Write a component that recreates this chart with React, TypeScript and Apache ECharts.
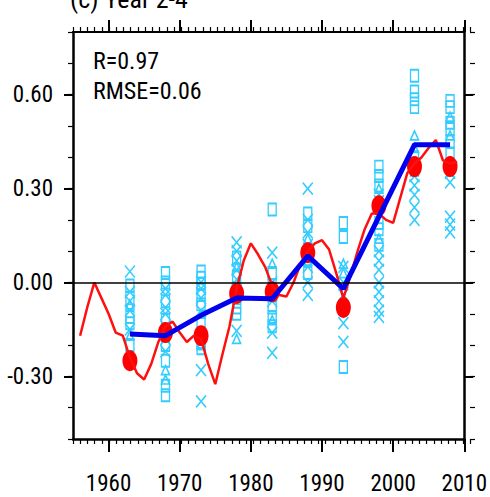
import React, { useEffect, useRef } from "react";
import * as echarts from "echarts";

const FONT = "'Roboto Condensed', 'DejaVu Sans Condensed', sans-serif";
const CYAN = "#33ccff";

const xTickLabels = [1960, 1970, 1980, 1990, 2000, 2010];
const yTickLabels = [-0.3, 0.0, 0.3, 0.6];

const redYears = [
  1956, 1957, 1958, 1959, 1960, 1961, 1962, 1963, 1964, 1965, 1966, 1967, 1968, 1969,
  1970, 1971, 1972, 1973, 1974, 1975, 1976, 1977, 1978, 1979, 1980, 1981, 1982, 1983,
  1984, 1985, 1986, 1987, 1988, 1989, 1990, 1991, 1992, 1993, 1994, 1995, 1996, 1997,
  1998, 1999, 2000, 2001, 2002, 2003, 2004, 2005, 2006, 2007, 2008, 2009,
];
const redValues = [
  -0.17, -0.08, 0.0, -0.05, -0.1, -0.16, -0.17, -0.24, -0.29, -0.31, -0.26, -0.19, -0.14, -0.125,
  -0.16, -0.19, -0.17, -0.18, -0.26, -0.325, -0.23, -0.14, -0.02, 0.07, 0.125, 0.09, 0.05, -0.01,
  -0.04, -0.045, 0.0, 0.06, 0.1, 0.125, 0.135, 0.105, 0.03, -0.05, 0.02, 0.1, 0.17, 0.22,
  0.22, 0.2, 0.19, 0.27, 0.35, 0.38, 0.4, 0.43, 0.455, 0.39, 0.38, 0.385,
];

const pentadYears = [1963, 1968, 1973, 1978, 1983, 1988, 1993, 1998, 2003, 2008];
const dotValues = [-0.25, -0.16, -0.17, -0.035, -0.03, 0.095, -0.08, 0.245, 0.37, 0.37];
const blueValues = [-0.165, -0.17, -0.105, -0.05, -0.052, 0.085, -0.02, 0.21, 0.44, 0.44];

const crossValues: number[][] = [
  [0.035, -0.03, -0.06, -0.09, -0.15],
  [-0.02, -0.04, -0.08, -0.1, -0.14, -0.18, -0.22],
  [0.0, -0.02, -0.05, -0.09, -0.28, -0.38],
  [0.128, 0.1, 0.07, 0.04, 0.01, -0.03, -0.155],
  [0.095, 0.0, -0.04, -0.06, -0.16, -0.225],
  [0.3, 0.2, 0.16, 0.12, 0.05, 0.0, -0.04],
  [0.05, 0.0, -0.04, -0.08, -0.13, -0.19],
  [0.28, 0.26, 0.1, 0.07, 0.04, 0.0, -0.03, -0.06, -0.09, -0.11],
  [0.34, 0.31, 0.28, 0.24, 0.2],
  [0.35, 0.32, 0.21, 0.185, 0.16],
];
const squareValues: number[][] = [
  [-0.01, -0.05, -0.11, -0.13, -0.2],
  [0.03, 0.0, -0.06, -0.12, -0.2, -0.25, -0.33, -0.36],
  [0.035, 0.015, -0.005, -0.04, -0.07, -0.13, -0.19, -0.21],
  [0.08, 0.02, -0.05, -0.08, -0.1],
  [0.233, 0.03, -0.01, -0.08, -0.11, -0.14],
  [0.22, 0.18, 0.1, 0.03],
  [0.19, 0.145, -0.27],
  [0.37, 0.34, 0.31, 0.19, 0.17, 0.12],
  [0.66, 0.61, 0.585, 0.56, 0.4, 0.36],
  [0.58, 0.56, 0.51, 0.49, 0.45, 0.41],
];
const triangleValues: number[][] = [
  [-0.07, -0.17],
  [-0.28, -0.31],
  [-0.1, -0.2],
  [0.05, -0.18],
  [0.06, -0.12],
  [0.14, 0.07],
  [0.06, 0.03],
  [0.3, 0.14],
  [0.47, 0.43],
  [0.53, 0.47],
];

const toPts = (vals: number[][]) =>
  vals.flatMap((col, i) => col.map((v) => [pentadYears[i], v]));

export default function App() {
  const ref = useRef<HTMLDivElement>(null);
  useEffect(() => {
    if (!ref.current) return;
    const chart = echarts.init(ref.current, undefined, { renderer: "svg" });
    const gridRect = { left: 73, right: 20, top: 32, bottom: 58 };
    const lineStyle = { color: "#000", width: 2.5 };
    const markerItem = { color: "none", borderColor: CYAN, borderWidth: 1.6, opacity: 1 };
    const majorTick = (len: number, vals: number[]) => ({
      show: true, customValues: vals, length: len, lineStyle: { color: "#000", width: 2 },
    });
    const minorTick = { show: true, length: 5, lineStyle: { color: "#000", width: 1.2 } };
    chart.setOption({
      animation: false,
      backgroundColor: "#fff",
      grid: [{ ...gridRect }, { ...gridRect }],
      xAxis: [
        {
          gridIndex: 0, type: "value", position: "bottom", min: 1955, max: 2010,
          axisLine: { show: true, onZero: false, lineStyle },
          axisTick: majorTick(13, xTickLabels),
          axisLabel: {
            customValues: xTickLabels, margin: 34, color: "#000", fontFamily: FONT, fontSize: 23,
            lineHeight: 20, formatter: (v: number) => String(v),
          },
          splitLine: { show: false },
        },
        {
          gridIndex: 0, type: "value", position: "top", min: 1955, max: 2010,
          axisLine: { show: true, onZero: false, lineStyle: { color: "#000", width: 2 } },
          axisTick: majorTick(12, xTickLabels),
          axisLabel: { show: false },
          splitLine: { show: false },
        },
        {
          gridIndex: 1, type: "value", position: "bottom", min: 1955, max: 2010, interval: 1,
          axisLine: { show: false, onZero: false },
          axisTick: minorTick,
          axisLabel: { show: false },
          splitLine: { show: false },
        },
        {
          gridIndex: 1, type: "value", position: "top", min: 1955, max: 2010, interval: 1,
          axisLine: { show: false, onZero: false },
          axisTick: minorTick,
          axisLabel: { show: false },
          splitLine: { show: false },
        },
      ],
      yAxis: [
        {
          gridIndex: 0, type: "value", position: "left", min: -0.5, max: 0.8,
          axisLine: { show: true, onZero: false, lineStyle },
          axisTick: majorTick(9, yTickLabels),
          axisLabel: {
            customValues: yTickLabels, margin: 20, color: "#000", fontFamily: FONT, fontSize: 23,
            formatter: (v: number) => v.toFixed(2),
          },
          splitLine: { show: false },
        },
        {
          gridIndex: 0, type: "value", position: "right", min: -0.5, max: 0.8,
          axisLine: { show: true, onZero: false, lineStyle },
          axisTick: majorTick(9, yTickLabels),
          axisLabel: { show: false },
          splitLine: { show: false },
        },
        {
          gridIndex: 1, type: "value", position: "left", min: -0.5, max: 0.8, interval: 0.1,
          axisLine: { show: false, onZero: false },
          axisTick: minorTick,
          axisLabel: { show: false },
          splitLine: { show: false },
        },
        {
          gridIndex: 1, type: "value", position: "right", min: -0.5, max: 0.8, interval: 0.1,
          axisLine: { show: false, onZero: false },
          axisTick: minorTick,
          axisLabel: { show: false },
          splitLine: { show: false },
        },
      ],
      graphic: [
        {
          type: "text", left: 70, top: -14,
          style: { text: "(c) Year 2-4", fontFamily: FONT, fontSize: 26, fill: "#000" },
        },
        {
          type: "text", left: 93, top: 49,
          style: { text: "R=0.97", fontFamily: FONT, fontSize: 24, fill: "#000" },
        },
        {
          type: "text", left: 93, top: 79,
          style: { text: "RMSE=0.06", fontFamily: FONT, fontSize: 24, fill: "#000" },
        },
      ],
      series: [
        {
          type: "scatter", xAxisIndex: 0, yAxisIndex: 0,
          symbol: "path://M0,0L10,12M10,0L0,12", symbolSize: [10, 12],
          itemStyle: markerItem, data: toPts(crossValues), silent: true,
        },
        {
          type: "scatter", xAxisIndex: 0, yAxisIndex: 0,
          symbol: "path://M0,0H10V14H0Z", symbolSize: [8, 12],
          itemStyle: markerItem, data: toPts(squareValues), silent: true,
        },
        {
          type: "scatter", xAxisIndex: 0, yAxisIndex: 0,
          symbol: "path://M5,0L10,10L0,10Z", symbolSize: [8, 9],
          itemStyle: markerItem, data: toPts(triangleValues), silent: true,
        },
        {
          type: "line", xAxisIndex: 0, yAxisIndex: 0,
          data: redYears.map((y, i) => [y, redValues[i]]),
          showSymbol: false, symbol: "none",
          lineStyle: { color: "#ff1010", width: 2.5 },
          markLine: {
            silent: true, symbol: "none", label: { show: false },
            lineStyle: { color: "#000", width: 1.5, type: "solid" },
            data: [{ yAxis: 0 }],
          },
        },
        {
          type: "scatter", xAxisIndex: 0, yAxisIndex: 0,
          data: pentadYears.map((y, i) => [y, dotValues[i]]),
          symbol: "circle", symbolSize: [15, 21],
          itemStyle: { color: "#ff0000", opacity: 1 },
        },
        {
          type: "line", xAxisIndex: 0, yAxisIndex: 0,
          data: pentadYears.map((y, i) => [y, blueValues[i]]),
          showSymbol: false, symbol: "none",
          lineStyle: { color: "#0000ee", width: 5 },
        },
      ],
    });
    return () => chart.dispose();
  }, []);
  return <div ref={ref} style={{ width: 490, height: 497, position: "absolute", left: 0, top: 0 }} />;
}
